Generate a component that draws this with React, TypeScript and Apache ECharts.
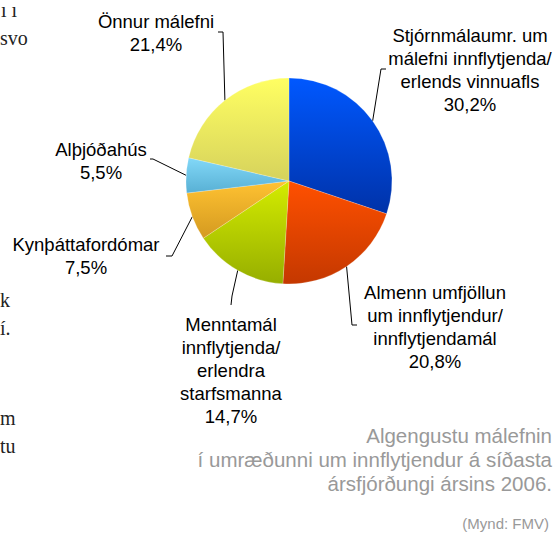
import React, { useEffect, useRef } from "react";
import * as echarts from "echarts";

const categories: string[] = [
  "Stjórnmálaumr. um\nmálefni innflytjenda/\nerlends vinnuafls",
  "Almenn umfjöllun\num innflytjendur/\ninnflytjendamál",
  "Menntamál\ninnflytjenda/\nerlendra\nstarfsmanna",
  "Kynþáttafordómar",
  "Alþjóðahús",
  "Önnur málefni",
];
const values: number[] = [30.2, 20.8, 14.7, 7.5, 5.5, 21.4];
const topColors: string[] = ["#0058FF", "#FF5000", "#D4EC00", "#FFC232", "#82D8F8", "#FFFF62"];
const bottomColors: string[] = ["#0032A8", "#C43800", "#96AE00", "#D49A20", "#58B0D4", "#D6D25C"];

const captionLines: string[] = [
  "Algengustu málefnin",
  "í umræðunni um innflytjendur á síðasta",
  "ársfjórðungi ársins 2006.",
];
const creditText = "(Mynd: FMV)";
const pageFragments: { t: string; x: number; y: number }[] = [
  { t: "svo", x: 0, y: 40 },
  { t: "k", x: 0, y: 302 },
  { t: "í.", x: 0, y: 330 },
  { t: "m", x: 0, y: 420 },
  { t: "tu", x: 0, y: 448 },
];
const topFragment = "ı ı";

// label block centres and leader bends (layout only)
const labelLayouts: { x: number; y: number; pts: number[][] }[] = [
  { x: 470, y: 70, pts: [[381, 69], [386, 69]] },
  { x: 435, y: 327, pts: [[352, 325], [357, 325]] },
  { x: 231, y: 370, pts: [[232, 296], [231, 305]] },
  { x: 86, y: 256, pts: [[172, 256], [166, 256]] },
  { x: 101, y: 161, pts: [[153, 159], [150, 159]] },
  { x: 156, y: 33, pts: [[223, 32], [218, 32]] },
];

const CX = 289;
const CY = 181;
const R = 103;

export default function App() {
  const ref = useRef<HTMLDivElement>(null);
  useEffect(() => {
    if (!ref.current) return;
    const chart = echarts.init(ref.current, null, { renderer: "svg" });
    const total = values.reduce((a, b) => a + b, 0);
    const data = categories.map((name, i) => ({
      name,
      value: values[i],
      itemStyle: {
        color: new echarts.graphic.LinearGradient(0, 0, 0, 1, [
          { offset: 0, color: topColors[i] },
          { offset: 1, color: bottomColors[i] },
        ]),
      },
    }));
    chart.setOption({
      animation: false,
      backgroundColor: "#ffffff",
      series: [
        {
          type: "pie",
          center: [CX, CY],
          radius: [0, R],
          startAngle: 90,
          clockwise: true,
          avoidLabelOverlap: false,
          data,
          itemStyle: { borderColor: "rgba(255,255,255,0.35)", borderWidth: 0.6 },
          label: {
            show: true,
            position: "outside",
            color: "#000",
            fontFamily: "Liberation Sans, Arial, sans-serif",
            fontSize: 18.5,
            lineHeight: 23,
            align: "center",
            formatter: (p: any) => p.name + "\n" + p.value.toFixed(1).replace(".", ",") + "%",
          },
          labelLine: {
            show: true,
            length: 10,
            length2: 10,
            smooth: false,
            lineStyle: { color: "#000", width: 1 },
          },
          labelLayout: (params: any) => {
            const i = params.dataIndex;
            const L = labelLayouts[i];
            let start = params.labelLinePoints && params.labelLinePoints[0];
            if (!start) {
              let cum = 0;
              for (let k = 0; k < i; k++) cum += values[k];
              const a = ((cum + values[i] / 2) / total) * Math.PI * 2;
              start = [CX + R * Math.sin(a), CY - R * Math.cos(a)];
            }
            return {
              x: L.x,
              y: L.y,
              align: "center",
              verticalAlign: "middle",
              labelLinePoints: [start, L.pts[0], L.pts[1]],
            };
          },
          emphasis: { disabled: true },
        },
      ],
      graphic: [
        {
          type: "text",
          left: 1,
          top: 0,
          style: {
            text: topFragment,
            fill: "#222",
            font: "20px 'Liberation Serif', 'Times New Roman', serif",
            lineHeight: 8,
          },
        },
        ...pageFragments.map((f) => ({
          type: "text",
          left: f.x,
          top: f.y - 12,
          style: {
            text: f.t,
            fill: "#222",
            font: "20px 'Liberation Serif', 'Times New Roman', serif",
          },
        })),
        ...captionLines.map((t, i) => ({
          type: "text",
          right: 3,
          top: 425 + i * 24,
          style: {
            text: t,
            fill: "#999",
            font: "20.5px 'Liberation Sans', Arial, sans-serif",
            textAlign: "right",
          },
        })),
        {
          type: "text",
          right: 6,
          top: 516,
          style: {
            text: creditText,
            fill: "#999",
            font: "15px 'Liberation Sans', Arial, sans-serif",
            textAlign: "right",
          },
        },
      ],
    });
    return () => chart.dispose();
  }, []);
  return (
    <div
      ref={ref}
      style={{ position: "fixed", left: 0, top: 0, width: 555, height: 541, background: "#fff" }}
    />
  );
}
